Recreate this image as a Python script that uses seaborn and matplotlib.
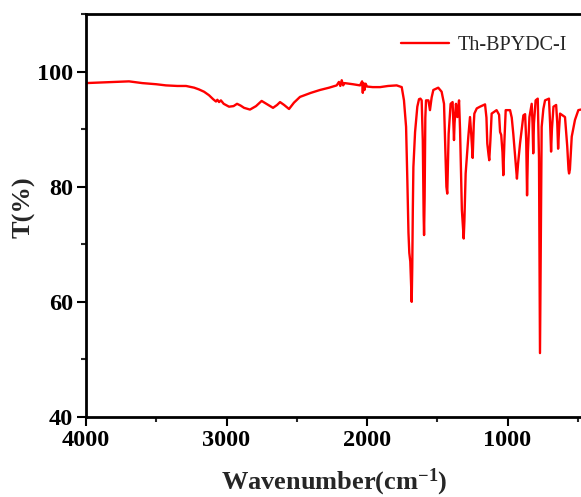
import matplotlib
matplotlib.use("Agg")
import matplotlib.pyplot as plt
import seaborn as sns
import pandas as pd
from matplotlib.ticker import MultipleLocator

wavenumber = [4000, 3900, 3800, 3694, 3600, 3500, 3431, 3350, 3288, 3230, 3196, 3160, 3125,
              3095, 3075, 3065, 3053, 3040, 3020, 2982, 2950, 2925, 2900, 2875, 2833, 2790,
              2750, 2710, 2669, 2640, 2619, 2590, 2555, 2520, 2477, 2400, 2335, 2270, 2216,
              2200, 2190, 2180, 2170, 2160, 2100, 2050, 2035, 2030, 2025, 2018, 2010, 2000,
              1960, 1907, 1850, 1789, 1753, 1737, 1722, 1713, 1705, 1699, 1692, 1685, 1682,
              1678, 1674, 1670, 1658, 1642, 1630, 1620, 1611, 1603, 1597, 1594, 1590, 1585,
              1580, 1563, 1552, 1540, 1528, 1510, 1493, 1469, 1452, 1443, 1435, 1429, 1424,
              1419, 1405, 1391, 1384, 1381, 1377, 1367, 1357, 1345, 1338, 1333, 1325, 1319,
              1312, 1307, 1298, 1279, 1267, 1258, 1248, 1240, 1236, 1219, 1196, 1160, 1150,
              1144, 1135, 1130, 1122, 1113, 1078, 1060, 1053, 1045, 1036, 1030, 1022, 1013,
              982, 970, 959, 945, 933, 925, 911, 887, 875, 867, 861, 855, 844, 828, 822, 817,
              812, 800, 785, 776, 772, 769, 765, 760, 757, 745, 733, 705, 697, 690, 684, 673,
              654, 646, 640, 633, 626, 591, 575, 566, 562, 556, 543, 520, 496, 477, 460]
transmittance = [98.0, 98.1, 98.2, 98.3, 98.0, 97.8, 97.6, 97.5, 97.5, 97.2, 96.9, 96.5, 95.9,
                 95.2, 94.8, 95.1, 94.7, 95.0, 94.4, 93.9, 94.0, 94.4, 94.1, 93.7, 93.4, 94.0,
                 94.9, 94.3, 93.7, 94.2, 94.7, 94.2, 93.5, 94.6, 95.6, 96.3, 96.8, 97.2, 97.6,
                 98.2, 97.5, 98.5, 97.6, 98.0, 97.8, 97.6, 98.3, 96.3, 98.0, 96.8, 97.9, 97.4,
                 97.3, 97.3, 97.5, 97.6, 97.3, 95.0, 90.4, 81.1, 72.0, 68.5, 67.0, 62.0, 60.0,
                 66.0, 76.0, 83.4, 89.5, 93.9, 95.2, 95.3, 95.0, 88.0, 75.0, 71.6, 78.0, 92.0,
                 95.0, 95.0, 93.3, 95.5, 96.8, 97.0, 97.2, 96.5, 94.4, 86.9, 80.0, 78.8, 84.0,
                 89.2, 94.4, 94.7, 90.0, 88.1, 91.0, 94.4, 92.1, 95.0, 90.0, 84.6, 76.0, 73.6,
                 71.0, 74.0, 82.3, 88.7, 92.1, 89.0, 85.0, 91.0, 92.7, 93.6, 93.9, 94.3, 92.0,
                 87.5, 85.5, 84.6, 88.0, 92.7, 93.3, 92.5, 89.5, 89.0, 86.0, 82.0, 88.0, 93.3,
                 93.3, 92.0, 89.2, 85.0, 81.4, 84.0, 87.5, 92.4, 92.6, 88.0, 78.5, 86.0, 92.1,
                 94.4, 91.0, 85.8, 91.0, 95.0, 95.3, 85.0, 65.0, 51.1, 65.0, 83.0, 90.4, 93.5,
                 95.0, 95.3, 91.0, 86.1, 90.0, 93.9, 94.2, 91.0, 86.6, 90.0, 92.7, 92.1, 87.0,
                 83.0, 82.3, 83.0, 88.7, 91.6, 93.3, 93.4, 93.5]
series_name = "Th-BPYDC-I"
x_ticks = [4000, 3000, 2000, 1000]
y_ticks = [40, 60, 80, 100]

sns.set_style("ticks")
plt.rcParams['font.family'] = ['Liberation Serif', 'DejaVu Serif']
plt.rcParams['mathtext.fontset'] = 'custom'
plt.rcParams['mathtext.rm'] = 'Liberation Serif:bold'
plt.rcParams['mathtext.bf'] = 'Liberation Serif:bold'
plt.rcParams['mathtext.it'] = 'Liberation Serif:bold:italic'

df = pd.DataFrame({"Wavenumber": wavenumber, "T": transmittance, "Sample": series_name})

fig = plt.figure(figsize=(5.81, 4.97), dpi=100)
W, H = 581, 497
ax = fig.add_axes([86 / W, 80 / H, 497.4 / W, 403 / H])

sns.lineplot(data=df, x="Wavenumber", y="T", hue="Sample", palette=["#ff0000"],
             estimator=None, sort=False, linewidth=1.7, ax=ax)

ax.set_xlim(4000, 460)
ax.set_ylim(40, 110)
ax.set_xticks(x_ticks)
ax.set_yticks(y_ticks)
ax.xaxis.set_minor_locator(MultipleLocator(500))
ax.yaxis.set_minor_locator(MultipleLocator(10))
ax.tick_params(axis='both', which='major', direction='out', length=6.5, width=1.5,
               labelsize=17.5, pad=3, top=False, right=False, colors='black')
ax.tick_params(axis='both', which='minor', direction='out', length=3.5, width=1.5,
               top=False, right=False)
for lbl in ax.get_xticklabels() + ax.get_yticklabels():
    lbl.set_fontweight('bold')
for s in ax.spines.values():
    s.set_linewidth(2)
    s.set_color('black')

ax.set_xlabel("Wavenumber(cm$^{-1}$)", fontsize=19, fontweight='bold', labelpad=11)
ax.set_ylabel("T(%)", fontsize=19, fontweight='bold')
ax.yaxis.set_label_coords(-0.101, 0.52)

leg = ax.legend(loc='upper right', bbox_to_anchor=(1.003, 0.99), frameon=False,
                fontsize=14.5, handlelength=2.4, handletextpad=0.4)
for h in leg.get_lines():
    h.set_linewidth(1.7)
leg.set_title(None)

fig.savefig("out.png", dpi=100)
